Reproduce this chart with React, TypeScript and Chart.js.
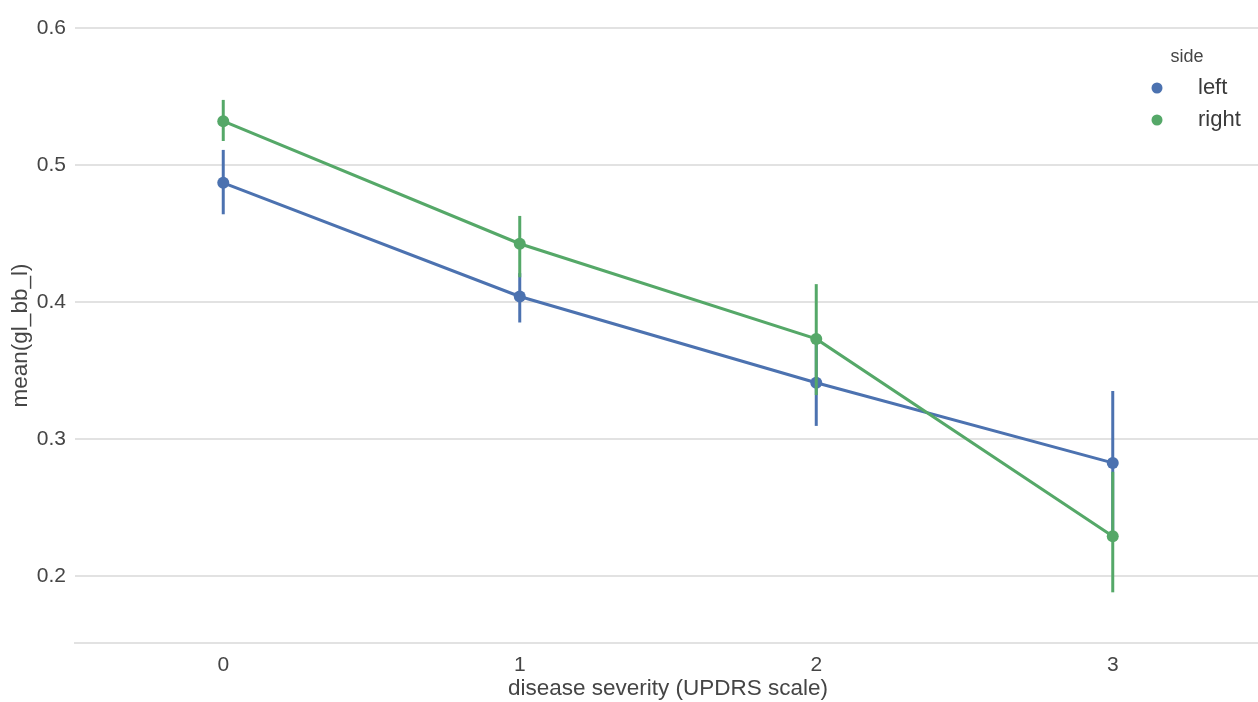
import React, { useEffect, useRef } from "react";
import { Chart, registerables } from "chart.js";

Chart.register(...registerables);

const categories = ["0", "1", "2", "3"];
const leftMean = [0.487, 0.404, 0.341, 0.2825];
const leftLow = [0.464, 0.385, 0.3095, 0.232];
const leftHigh = [0.511, 0.421, 0.372, 0.335];
const rightMean = [0.532, 0.4425, 0.373, 0.229];
const rightLow = [0.5175, 0.418, 0.332, 0.188];
const rightHigh = [0.5475, 0.4628, 0.413, 0.276];
const yTicks = [0.2, 0.3, 0.4, 0.5, 0.6];
const seriesNames = ["left", "right"];
const legendTitle = "side";

const BLUE = "#4c72b0";
const GREEN = "#55a868";
const FONT = "'Liberation Sans', Arial, sans-serif";
const TEXT = "#454545";

const errLow = [leftLow, rightLow];
const errHigh = [leftHigh, rightHigh];

const errorBarPlugin = {
  id: "errorBars",
  beforeDatasetDraw(chart: any, args: any) {
    const i = args.index;
    const meta = chart.getDatasetMeta(i);
    const ys = chart.scales.y;
    const ctx = chart.ctx;
    ctx.save();
    ctx.strokeStyle = chart.data.datasets[i].borderColor;
    ctx.lineWidth = 3;
    ctx.lineCap = "butt";
    meta.data.forEach((pt: any, j: number) => {
      ctx.beginPath();
      ctx.moveTo(pt.x, ys.getPixelForValue(errLow[i][j]));
      ctx.lineTo(pt.x, ys.getPixelForValue(errHigh[i][j]));
      ctx.stroke();
    });
    ctx.restore();
  },
};

const legendPlugin = {
  id: "customLegend",
  afterDraw(chart: any) {
    const ctx = chart.ctx;
    const cx = 1187;
    ctx.save();
    ctx.fillStyle = TEXT;
    ctx.font = `18px ${FONT}`;
    ctx.textAlign = "center";
    ctx.textBaseline = "middle";
    ctx.fillText(legendTitle, cx, 57);
    const colors = [BLUE, GREEN];
    seriesNames.forEach((name, k) => {
      const y = 88 + k * 32;
      ctx.beginPath();
      ctx.fillStyle = colors[k];
      ctx.arc(cx - 30, y, 5.5, 0, Math.PI * 2);
      ctx.fill();
      ctx.fillStyle = "#3a3a3a";
      ctx.font = `22px ${FONT}`;
      ctx.textAlign = "left";
      ctx.fillText(name, cx + 11, y);
    });
    ctx.restore();
  },
};

export default function App() {
  const ref = useRef<HTMLCanvasElement>(null);
  useEffect(() => {
    if (!ref.current) return;
    const chart = new Chart(ref.current, {
      type: "line",
      data: {
        labels: categories,
        datasets: [
          {
            label: seriesNames[0],
            data: leftMean,
            borderColor: BLUE,
            backgroundColor: BLUE,
            borderWidth: 3,
            pointRadius: 6,
            pointBorderWidth: 0,
            tension: 0,
            order: 1,
          },
          {
            label: seriesNames[1],
            data: rightMean,
            borderColor: GREEN,
            backgroundColor: GREEN,
            borderWidth: 3,
            pointRadius: 6,
            pointBorderWidth: 0,
            tension: 0,
            order: 0,
          },
        ],
      },
      options: {
        animation: false,
        responsive: false,
        maintainAspectRatio: false,
        layout: { padding: { top: 28, right: 0, left: 0, bottom: 0 } },
        plugins: { legend: { display: false }, tooltip: { enabled: false } },
        scales: {
          x: {
            type: "category",
            offset: true,
            grid: { display: false, drawTicks: false },
            border: { display: true, color: "#e2e2e2", width: 2 },
            ticks: { color: TEXT, font: { family: FONT, size: 21 }, padding: 10 },
            title: {
              display: true,
              text: "disease severity (UPDRS scale)",
              color: TEXT,
              font: { family: FONT, size: 22.5 },
              padding: { top: 0, bottom: 0 },
            },
            afterFit: (s: any) => {
              s.height = 59;
            },
          },
          y: {
            min: 0.151,
            max: 0.6,
            grid: { color: "#e2e2e2", lineWidth: 2, drawTicks: false },
            border: { display: false },
            afterBuildTicks: (s: any) => {
              s.ticks = yTicks.map((v) => ({ value: v }));
            },
            ticks: {
              color: TEXT,
              font: { family: FONT, size: 21 },
              padding: 9,
              callback: (v: any) => String(v),
            },
            title: {
              display: true,
              text: "mean(gl_bb_l)",
              color: TEXT,
              font: { family: FONT, size: 22.5 },
              padding: { top: 7, bottom: 0 },
            },
            afterFit: (s: any) => {
              s.width = 75;
            },
          },
        },
      },
      plugins: [errorBarPlugin, legendPlugin],
    });
    return () => chart.destroy();
  }, []);
  return (
    <div
      style={{
        position: "fixed",
        left: 0,
        top: 0,
        width: 1258,
        height: 702,
        overflow: "hidden",
        background: "#fff",
      }}
    >
      <canvas ref={ref} width={1267} height={702} style={{ display: "block" }} />
    </div>
  );
}
